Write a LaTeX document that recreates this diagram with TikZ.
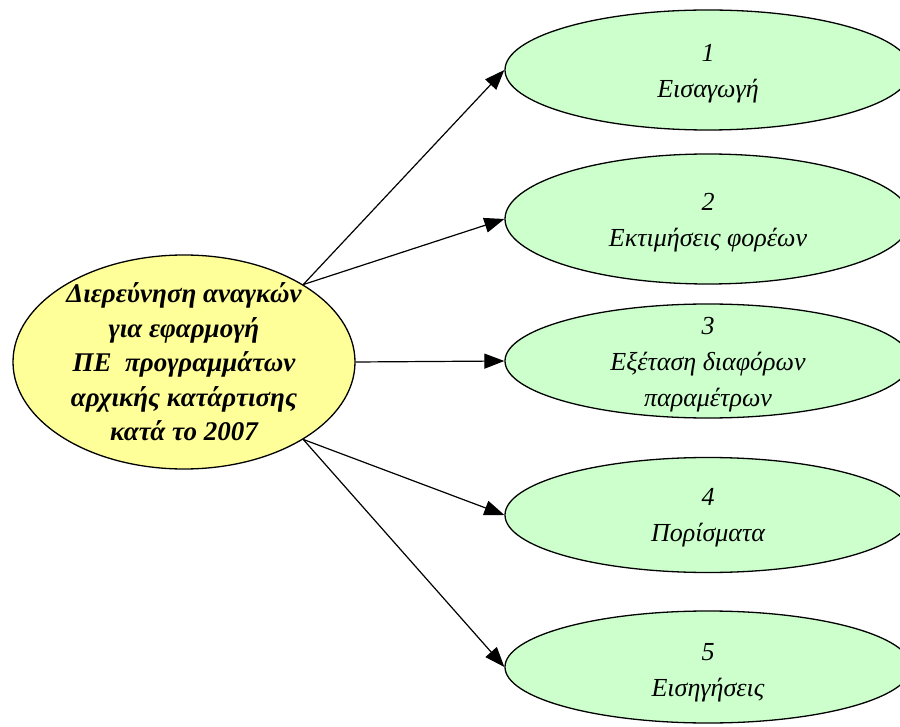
\documentclass[tikz,border=0pt]{standalone}
\usepackage{fontspec}
\setmainfont{Liberation Serif}
\usetikzlibrary{shapes.geometric,arrows.meta}
\definecolor{lemon}{HTML}{FFFF99}
\definecolor{mint}{HTML}{CCFFCC}

\begin{document}
\begin{tikzpicture}[x=1pt,y=-1pt,
    topic/.style={ellipse,draw=black,line width=1.3pt,fill=lemon,inner sep=0pt},
    part/.style={ellipse,draw=black,line width=1.3pt,fill=mint,inner sep=0pt,minimum width=406pt},
    words/.style={align=center,inner sep=0pt,font=\fontsize{26}{36}\selectfont\itshape},
    arr/.style={-{Triangle[length=20pt,width=15pt]},line width=1.2pt}]
    \useasboundingbox (0,0) rectangle (900,727);
    % main topic
    \node[topic,minimum width=342pt,minimum height=214pt] (main) at (184,362) {};
    \node[words,font=\fontsize{27}{34.5}\selectfont\itshape\bfseries] (maintxt) at (main) {Διερεύνηση αναγκών\\για εφαρμογή\\ΠΕ\ \ προγραμμάτων\\αρχικής κατάρτισης\\κατά το 2007};
    % the five parts
    \node[part,minimum height=120pt] (e1) at (708,70) {};
    \node[part,minimum height=130pt] (e2) at (708,219) {};
    \node[part,minimum height=114pt] (e3) at (708,361) {};
    \node[part,minimum height=115pt] (e4) at (708,515) {};
    \node[part,minimum height=112pt] (e5) at (708,667) {};
    \node[words] (t1) at ([yshift=-4pt]e1) {1\\Εισαγωγή};
    \node[words] (t2) at ([yshift=-4pt]e2) {2\\Εκτιμήσεις φορέων};
    \node[words] (t3) at ([yshift=-4pt]e3) {3\\Εξέταση διαφόρων\\παραμέτρων};
    \node[words] (t4) at ([yshift=-3pt]e4) {4\\Πορίσματα};
    \node[words] (t5) at ([yshift=-6pt]e5) {5\\Εισηγήσεις};
    \foreach \e/\a in {e1/33,e2/33,e3/0,e4/-33,e5/-33}
       \draw[arr] (main.\a) -- (\e.west);
\end{tikzpicture}
\end{document}
